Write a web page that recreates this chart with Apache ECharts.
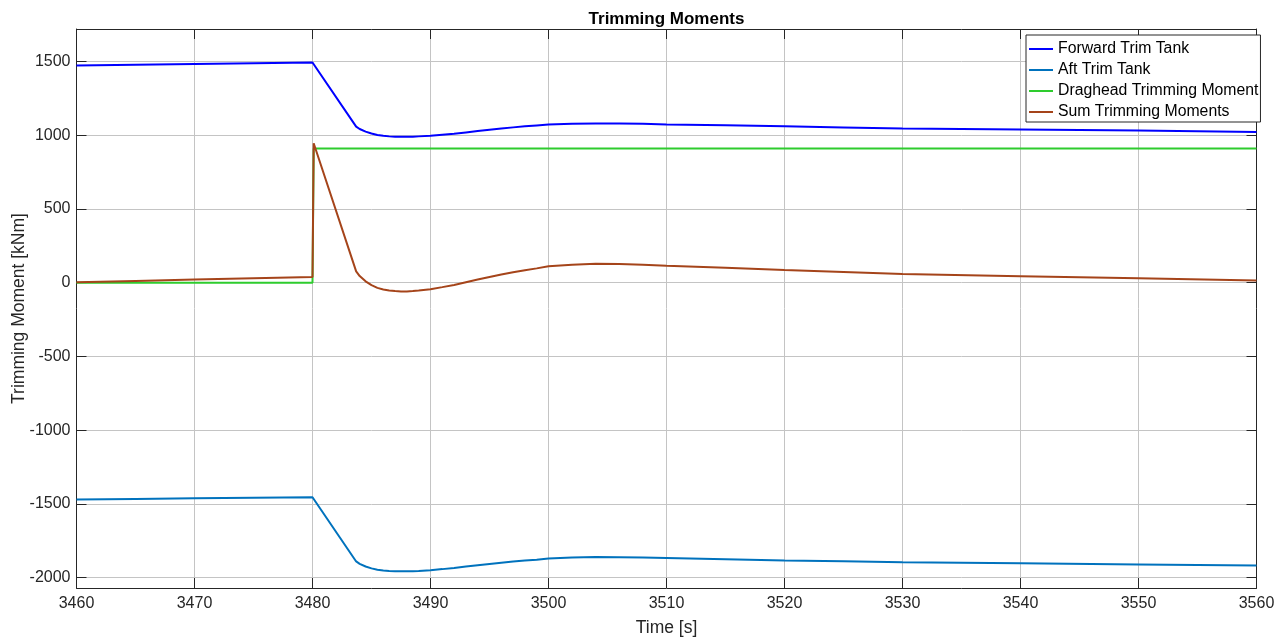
<!DOCTYPE html>
<html>
<head>
<meta charset="utf-8">
<title>Trimming Moments</title>
<script src="https://cdn.jsdelivr.net/npm/echarts@6/dist/echarts.min.js"></script>
<style>
  html, body { margin: 0; padding: 0; background: #fff; }
  #chart { width: 1282px; height: 641px; }
</style>
</head>
<body>
<div id="chart"></div>
<script>
// Time samples [s]
const time = [3460, 3465, 3470, 3475, 3480, 3480.1, 3483.7, 3484, 3484.5, 3485,
  3485.5, 3486, 3486.5, 3487, 3487.5, 3488, 3488.5, 3489, 3490, 3491,
  3492, 3493, 3494, 3495, 3496, 3497, 3498, 3499, 3500, 3502,
  3504, 3506, 3508, 3510, 3515, 3520, 3525, 3530, 3540, 3550, 3560];

// Trimming moments [kNm]
const forwardTrimTank = [1473, 1478, 1483, 1488, 1493, 1492, 1058, 1042, 1024, 1011,
  1002, 996, 992, 990, 989, 989, 990, 992, 996, 1003,
  1010, 1019, 1028, 1037, 1045, 1053, 1060, 1066, 1072, 1077,
  1080, 1079, 1077, 1073, 1067, 1060, 1053, 1045, 1038, 1031, 1022];
const aftTrimTank = [-1470, -1466, -1462, -1458, -1455, -1456, -1890, -1906, -1924, -1937,
  -1946, -1951, -1954, -1956, -1957, -1957, -1956, -1954, -1949, -1942,
  -1934, -1925, -1916, -1907, -1899, -1891, -1884, -1878, -1870, -1864,
  -1860, -1861, -1864, -1867, -1875, -1883, -1889, -1895, -1903, -1910, -1917];
const dragheadMoment = [0, 0, 0, 0, 0, 909, 909, 909, 909, 909,
  909, 909, 909, 909, 909, 909, 909, 909, 909, 909,
  909, 909, 909, 909, 909, 909, 909, 909, 909, 909,
  909, 909, 909, 909, 909, 909, 909, 909, 909, 909, 909];
const sumMoments = [3, 12, 21, 30, 38, 945, 77, 45, 9, -17,
  -35, -46, -53, -57, -59, -59, -57, -53, -44, -30,
  -15, 3, 21, 39, 55, 71, 85, 97, 111, 122,
  129, 127, 122, 115, 101, 86, 73, 59, 44, 30, 14];

const seriesNames = ['Forward Trim Tank', 'Aft Trim Tank', 'Draghead Trimming Moment', 'Sum Trimming Moments'];
const seriesColors = ['#0000ff', '#0072bd', '#2ecc2e', '#a5441a'];
const seriesValues = [forwardTrimTank, aftTrimTank, dragheadMoment, sumMoments];

// Axis ticks
const yTicks = [-2000, -1500, -1000, -500, 0, 500, 1000, 1500];
const yMin = -2070, yMax = 1720;
const xMin = 3460, xMax = 3560, xStep = 10;

const FONT = '"Liberation Sans", Arial, Helvetica, sans-serif';
const AXIS_COLOR = '#262626';
const GRID_COLOR = '#c4c4c4';
const LINE_ICON = 'path://M0,0H24V2H0Z';

const PLOT_LEFT = 76.5, PLOT_RIGHT = 25.5;

const chart = echarts.init(document.getElementById('chart'), null, { renderer: 'canvas' });

const pairs = vals => time.map((t, i) => [t, vals[i]]);
const plain = v => String(v);

const yCommon = {
  type: 'value', min: yMin, max: yMax,
  axisLine: { show: true, lineStyle: { color: AXIS_COLOR, width: 1 } },
  axisTick: { show: true, inside: true, length: 10, customValues: yTicks, lineStyle: { color: AXIS_COLOR } },
  splitLine: { show: false }
};
const xCommon = {
  type: 'value', min: xMin, max: xMax, interval: xStep,
  axisLine: { show: true, onZero: false, lineStyle: { color: AXIS_COLOR, width: 1 } },
  axisTick: { show: true, inside: true, length: 10, lineStyle: { color: AXIS_COLOR } },
  splitLine: { show: false }
};

chart.setOption({
  animation: false,
  backgroundColor: '#ffffff',
  title: {
    text: 'Trimming Moments',
    left: (PLOT_LEFT + 1282 - PLOT_RIGHT) / 2 - 5, top: 6,
    textAlign: 'center',
    textStyle: { fontFamily: FONT, fontSize: 17, fontWeight: 'bold', color: '#000' }
  },
  grid: {
    left: PLOT_LEFT, right: PLOT_RIGHT, top: 29, bottom: 53,
    containLabel: false, outerBoundsMode: 'none'
  },
  legend: {
    orient: 'vertical',
    left: 1026, top: 35,
    data: seriesNames.map(n => ({ name: n, icon: LINE_ICON })),
    backgroundColor: '#ffffff',
    borderColor: AXIS_COLOR, borderWidth: 1,
    padding: [6, 2, 2, 3],
    itemWidth: 24, itemHeight: 16, itemGap: 5,
    textStyle: { fontFamily: FONT, fontSize: 15.8, color: '#000' }
  },
  xAxis: [
    Object.assign({}, xCommon, {
      position: 'bottom',
      name: 'Time [s]', nameLocation: 'middle', nameGap: 31, nameMoveOverlap: false,
      nameTextStyle: { fontFamily: FONT, fontSize: 17.5, color: AXIS_COLOR },
      axisLabel: { fontFamily: FONT, fontSize: 16, color: AXIS_COLOR, margin: 8, formatter: plain },
      splitLine: { show: true, lineStyle: { color: GRID_COLOR, width: 1 } }
    }),
    Object.assign({}, xCommon, { position: 'top', axisLabel: { show: false } })
  ],
  yAxis: [
    Object.assign({}, yCommon, {
      position: 'left',
      name: 'Trimming Moment [kNm]', nameLocation: 'middle', nameGap: 48, nameMoveOverlap: false,
      nameTextStyle: { fontFamily: FONT, fontSize: 17.5, color: AXIS_COLOR },
      axisLabel: { fontFamily: FONT, fontSize: 16, color: AXIS_COLOR, margin: 6, customValues: yTicks, formatter: plain },
      splitLine: { show: true, lineStyle: { color: GRID_COLOR, width: 1 } }
    }),
    Object.assign({}, yCommon, { position: 'right', axisLabel: { show: false } })
  ],
  series: seriesNames.map((name, k) => ({
    name: name,
    type: 'line',
    xAxisIndex: 0, yAxisIndex: 0,
    data: pairs(seriesValues[k]),
    smooth: false,
    showSymbol: false,
    symbol: 'none',
    color: seriesColors[k],
    lineStyle: { color: seriesColors[k], width: 2 },
    emphasis: { disabled: true },
    z: 3 + k
  }))
});
</script>
</body>
</html>
